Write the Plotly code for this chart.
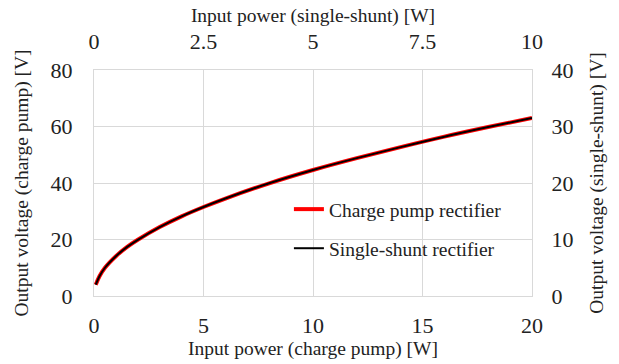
import plotly.graph_objects as go

# Charge pump rectifier (bottom / left axes)
cp_power = [0.08, 0.25, 0.5, 1, 1.5, 2, 3, 4, 5, 6, 8, 10, 12, 14, 16, 18, 20]
cp_voltage = [4.0, 7.0, 10.0, 14.1, 17.3, 19.9, 24.4, 28.2, 31.5, 34.5, 39.9, 44.6, 48.8, 52.7, 56.4, 59.8, 63.0]

# Single-shunt rectifier (top / right axes)
ss_power = [0.04, 0.125, 0.25, 0.5, 0.75, 1, 1.5, 2, 2.5, 3, 4, 5, 6, 7, 8, 9, 10]
ss_voltage = [2.0, 3.5, 5.0, 7.05, 8.65, 9.95, 12.2, 14.1, 15.75, 17.25, 19.95, 22.3, 24.4, 26.35, 28.2, 29.9, 31.5]

x_ticks = [0, 5, 10, 15, 20]
x2_ticks = [0, 2.5, 5, 7.5, 10]
y_ticks = [0, 20, 40, 60, 80]
y2_ticks = [0, 10, 20, 30, 40]

FONT = "Liberation Serif"
TICK = dict(family=FONT, size=22, color="#222")
TITLE = dict(family=FONT, size=19.5, color="#222")
GRID = "#d9d9d9"
NOTICK = "rgba(0,0,0,0)"

fig = go.Figure()
fig.add_trace(go.Scatter(x=cp_power, y=cp_voltage, mode="lines", name="Charge pump rectifier",
                         line=dict(color="#ff0000", width=4, shape="spline"),
                         xaxis="x", yaxis="y", legend="legend"))
fig.add_trace(go.Scatter(x=ss_power, y=ss_voltage, mode="lines", name="Single-shunt rectifier",
                         line=dict(color="#000000", width=2, shape="spline"),
                         xaxis="x2", yaxis="y2", legend="legend2"))

fig.update_layout(
    width=619, height=364,
    margin=dict(l=94, r=87, t=70, b=64),
    paper_bgcolor="white", plot_bgcolor="white",
    xaxis=dict(range=[0, 20], tickvals=x_ticks, showgrid=True, gridcolor=GRID, gridwidth=1,
               showline=True, linecolor=GRID, linewidth=1, mirror=True, zeroline=False,
               ticks="outside", ticklen=10, tickcolor=NOTICK, tickfont=TICK,
               title=dict(text="Input power (charge pump) [W]", font=TITLE, standoff=0)),
    xaxis2=dict(range=[0, 10], tickvals=x2_ticks, overlaying="x", side="top", showgrid=False,
                zeroline=False, ticks="outside", ticklen=11, tickcolor=NOTICK, tickfont=TICK,
                title=dict(text="Input power (single-shunt) [W]", font=TITLE, standoff=1)),
    yaxis=dict(range=[0, 80], tickvals=y_ticks, showgrid=True, gridcolor=GRID, gridwidth=1,
               showline=True, linecolor=GRID, linewidth=1, mirror=True, zeroline=False,
               ticks="outside", ticklen=16, tickcolor=NOTICK, tickfont=TICK,
               title=dict(text="Output voltage (charge pump) [V]", font=TITLE, standoff=16)),
    yaxis2=dict(range=[0, 40], tickvals=y2_ticks, overlaying="y", side="right", showgrid=False,
                zeroline=False, ticks="outside", ticklen=14, tickcolor=NOTICK, tickfont=TICK,
                title=dict(text="Output voltage (single-shunt) [V]", font=TITLE, standoff=16)),
    legend=dict(x=0.445, y=0.383, xanchor="left", yanchor="middle", bgcolor="rgba(0,0,0,0)",
                font=dict(family=FONT, size=19.5, color="#222")),
    legend2=dict(x=0.445, y=0.21, xanchor="left", yanchor="middle", bgcolor="rgba(0,0,0,0)",
                 font=dict(family=FONT, size=19.5, color="#222")),
    showlegend=True,
)

fig.write_html("out.html")
